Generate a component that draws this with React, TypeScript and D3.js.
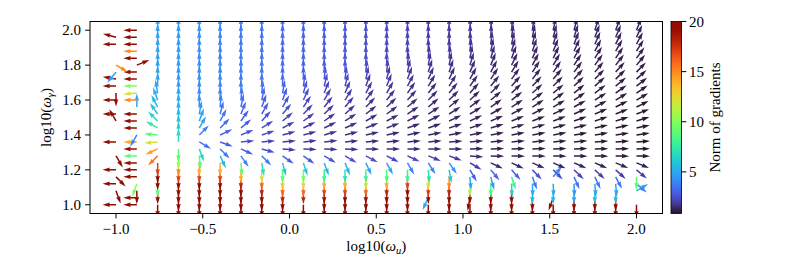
import React from 'react';
import * as d3 from 'd3';

// Grid (x = log10 omega_u columns, y = log10 omega_gamma rows from top to bottom)
const X_VALUES = [-1.0, -0.88, -0.76, -0.64, -0.52, -0.4, -0.28, -0.16, -0.04, 0.08, 0.2, 0.32, 0.44, 0.56, 0.68, 0.8, 0.92, 1.04, 1.16, 1.28, 1.4, 1.52, 1.64, 1.76, 1.88, 2.0];
const Y_VALUES = [2.0, 1.96, 1.92, 1.88, 1.84, 1.8, 1.76, 1.72, 1.68, 1.64, 1.6, 1.56, 1.52, 1.48, 1.44, 1.4, 1.36, 1.32, 1.28, 1.24, 1.2, 1.16, 1.12, 1.08, 1.04, 1.0];

// Arrow direction (degrees) per column, rows listed top (y=2.0) to bottom (y=1.0); x = missing
const ANGLE_COLUMNS = [
  'x 165 180 x x -30 -130 170 180 -90 180 x 180 120 x x 180 x -60 x 180 -45 180 -70 x 180',
  '180 180 180 180 180 22 180 180 180 185 180 90 180 180 180 -120 180 180 180 180 180 180 -110 -90 180 180',
  '90 90 90 90 90 90 90 90 90 100 110 118 125 135 150 175 185 205 225 -90 -90 -90 -90 -90 x -90',
  '90 90 90 90 90 90 90 90 90 90 90 90 90 90 90 90 90 -90 -90 -90 -90 -90 -90 -90 -90 -90',
  '90 90 90 90 90 90 90 90 90 90 90 90 80 70 60 45 -30 -70 -85 -90 -90 -90 -90 -90 -90 -90',
  '90 90 90 90 90 90 90 90 90 90 90 85 75 62 45 25 -20 -45 -65 -90 -90 -90 -90 -90 -90 -90',
  '90 90 90 90 90 90 90 90 90 90 85 78 68 55 40 22 5 -25 -55 -85 -90 -90 -90 -90 -90 -90',
  '90 90 90 90 90 90 90 90 90 85 78 70 60 48 32 18 5 -15 -45 -80 -90 -90 -90 -90 -90 -90',
  '90 90 90 90 90 90 90 90 90 80 70 60 50 40 28 15 5 -5 -35 -75 -90 -90 -90 -90 -90 -90',
  '90 90 90 90 90 90 90 90 82 74 65 56 46 36 26 15 6 -3 -35 -72 -90 -90 -90 -90 x -90',
  '90 90 90 90 90 90 90 84 76 68 60 52 44 35 26 16 6 -2 -30 -70 -90 -90 -90 -90 -90 -90',
  '90 90 90 90 90 90 90 83 75 67 58 50 42 33 24 14 5 -2 -30 -68 -90 -90 -90 -90 -90 -90',
  '90 90 90 90 90 90 85 78 70 62 54 46 38 30 22 13 5 -1 -28 -65 -90 -90 -90 -90 -90 -90',
  '90 90 90 90 90 90 84 76 68 60 52 44 36 28 20 12 5 0 -27 -62 -90 -90 -90 -90 -90 -90',
  '90 90 90 90 90 85 78 70 62 55 48 41 34 27 19 12 5 0 -25 -60 -90 -90 -90 -90 -90 -90',
  '90 90 90 90 86 80 73 66 59 52 46 40 33 26 19 11 5 0 -22 -58 -85 -90 -90 -90 -115 -90',
  '90 90 90 90 85 79 72 65 58 51 45 39 32 25 18 11 4 0 -20 -55 -80 -90 -90 -90 -90 -90',
  '88 88 88 84 79 73 67 61 55 49 43 37 31 25 18 11 5 1 -5 -30 -60 -85 -90 -90 -100 -90',
  '87 87 83 78 73 68 62 57 51 46 40 35 29 23 17 11 5 2 -2 -25 -50 -75 -90 -90 -90 -90',
  '85 82 78 74 69 64 59 54 49 44 38 33 28 22 16 11 5 2 -1 -25 -48 -72 -88 -90 -90 -90',
  '82 79 75 71 66 62 57 52 47 42 37 32 27 21 16 10 5 2 -1 -24 -46 -70 -88 -90 -90 -90',
  '78 75 72 68 64 60 55 50 45 40 35 30 25 20 15 10 5 2 -1 -24 -45 50 -88 -90 -110 -90',
  '75 72 69 65 61 57 53 48 44 39 34 29 24 19 14 9 5 2 -1 -23 -44 -66 -88 -90 -90 -90',
  '72 69 66 62 58 54 50 46 42 37 32 28 23 18 13 9 4 1 -1 -23 -43 -65 -85 -90 -90 -90',
  '70 67 64 60 56 52 48 44 40 36 31 27 22 17 13 8 4 1 -1 -22 -42 -62 -85 -90 -90 -90',
  '68 65 62 58 54 50 46 42 38 34 30 26 21 17 12 8 4 1 -1 -22 -40 -90 -40 30 x -90',
];

// Norm of gradients per column, same layout
const NORM_COLUMNS = [
  'x 20 20 x x 15 4.5 20 20 20 20 x 20 20 x x 20 x 20 x 20 20 20 20 x 20',
  '20 20 20 15 20 20 20 20 10 12 15 5 20 20 20 4 14 20 9 20 20 20 10 20 20 20',
  '4.8 4.8 4.8 4.8 4.8 4.8 4.8 4.8 4.8 5 5.3 5.6 6 6.5 7.5 9 12 14.5 15.5 17 20 20 9 20 x 20',
  '4.6 4.6 4.6 4.6 4.6 4.6 4.6 4.6 4.6 4.8 5 5.2 5.5 5.8 6.2 6.6 7 9 11 15 17 20 20 20 20 20',
  '4.3 4.3 4.3 4.3 4.3 4.3 4.3 4.3 4.3 4.3 4.3 4.3 4.5 4.8 4.8 4 3.5 6.5 9 14 17 20 20 20 20 20',
  '4 4 4 4 4 4 4 4 4 4 4 3.9 3.7 3.5 3.2 3 3 3.5 5.5 14 17 20 20 20 20 20',
  '3.7 3.7 3.7 3.7 3.7 3.7 3.7 3.7 3.7 3.7 3.6 3.4 3.2 3 2.8 2.6 2.5 3 4 9 14 18 20 20 20 20',
  '3.5 3.5 3.5 3.5 3.5 3.5 3.5 3.5 3.5 3.4 3.2 3 2.8 2.6 2.4 2.3 2.2 2.5 3.8 7 12 16 18 20 20 20',
  '3.3 3.3 3.3 3.3 3.3 3.3 3.3 3.3 3.3 3.1 2.9 2.7 2.5 2.3 2.1 2 1.9 2 3 6 9 13 16 18 20 20',
  '3.1 3.1 3.1 3.1 3.1 3.1 3.1 3.1 2.9 2.7 2.5 2.3 2.1 2 1.9 1.8 1.8 1.9 2.8 6 9.5 12 16 18 x 20',
  '2.9 2.9 2.9 2.9 2.9 2.9 2.9 2.7 2.5 2.3 2.2 2 1.9 1.8 1.75 1.7 1.7 1.8 2.6 5.5 8 14 17 19 20 20',
  '2.7 2.7 2.7 2.7 2.7 2.7 2.7 2.5 2.3 2.2 2 1.9 1.8 1.7 1.65 1.6 1.6 1.7 2.5 5.5 7 14 17 20 20 20',
  '2.5 2.5 2.5 2.5 2.5 2.5 2.4 2.2 2 1.9 1.8 1.7 1.65 1.6 1.55 1.5 1.5 1.6 2.4 5 8 12 16 19 20 20',
  '2.3 2.3 2.3 2.3 2.3 2.3 2.2 2 1.9 1.8 1.7 1.6 1.55 1.5 1.5 1.45 1.45 1.5 2.3 5 8.5 14 18 20 20 20',
  '2.15 2.15 2.15 2.15 2.15 2.05 1.95 1.85 1.75 1.65 1.6 1.5 1.45 1.4 1.4 1.4 1.4 1.45 2.2 4 8 17 20 20 20 20',
  '2 2 2 2 1.95 1.85 1.75 1.65 1.6 1.55 1.5 1.45 1.4 1.35 1.35 1.35 1.35 1.4 2 4 7 12 17 20 5 20',
  '1.9 1.9 1.9 1.9 1.85 1.75 1.65 1.55 1.5 1.45 1.4 1.35 1.35 1.3 1.3 1.3 1.3 1.35 1.9 4.5 6 15 18 20 20 20',
  '1.8 1.8 1.8 1.75 1.7 1.6 1.5 1.45 1.4 1.35 1.3 1.3 1.25 1.25 1.25 1.25 1.25 1.25 1.5 2 3 5 11 20 20 20',
  '1.7 1.7 1.65 1.6 1.55 1.5 1.45 1.4 1.35 1.3 1.25 1.25 1.2 1.2 1.2 1.2 1.2 1.2 1.3 1.5 3 4.5 8.5 20 20 20',
  '1.6 1.55 1.5 1.45 1.4 1.35 1.3 1.3 1.25 1.25 1.2 1.2 1.15 1.15 1.15 1.15 1.15 1.15 1.25 1.4 3 8 6.5 20 20 20',
  '1.5 1.45 1.4 1.4 1.35 1.3 1.3 1.25 1.2 1.2 1.15 1.15 1.1 1.1 1.1 1.1 1.1 1.1 1.2 1.35 2.5 3.5 5 5.5 20 20',
  '1.45 1.4 1.4 1.35 1.3 1.3 1.25 1.2 1.2 1.15 1.15 1.1 1.1 1.1 1.05 1.05 1.05 1.05 1.15 1.3 2.5 4 5 5.5 20 20',
  '1.4 1.4 1.35 1.3 1.3 1.25 1.2 1.2 1.15 1.15 1.1 1.1 1.05 1.05 1.05 1 1 1 1.1 1.3 2.2 3.5 4.5 5 20 20',
  '1.35 1.35 1.3 1.3 1.25 1.2 1.2 1.15 1.1 1.1 1.05 1.05 1 1 1 1 1 1 1.05 1.25 2 3.5 5 5.5 20 20',
  '1.3 1.3 1.25 1.25 1.2 1.2 1.15 1.1 1.1 1.05 1.05 1 1 1 0.95 0.95 0.95 0.95 1 1.2 2 3.5 5 5.5 20 20',
  '1.3 1.25 1.25 1.2 1.2 1.15 1.1 1.1 1.05 1.05 1 1 0.95 0.95 0.95 0.9 0.9 0.9 0.95 1.15 2 9 4 5 x 20',
];

const X_TICKS = [-1.0, -0.5, 0.0, 0.5, 1.0, 1.5, 2.0];
const Y_TICKS = [1.0, 1.2, 1.4, 1.6, 1.8, 2.0];
const CB_TICKS = [5, 10, 15, 20];
const NORM_RANGE = [0.85, 20];

const FONT = '"Liberation Serif", "DejaVu Serif", "Times New Roman", serif';

const parse = (s: string) => s.trim().split(/\s+/).map((t) => (t === 'x' ? NaN : +t));

export default function App() {
  const W = 793;
  const H = 262;
  const L = 90, R = 662.5, T = 21.5, B = 213.5;
  const x = d3.scaleLinear().domain([-1.15, 2.15]).range([L, R]);
  const y = d3.scaleLinear().domain([0.95, 2.05]).range([B, T]);
  const color = d3.scaleSequential(d3.interpolateTurbo).domain(NORM_RANGE).clamp(true);
  const cbL = 671, cbR = 681.5;
  const cbY = d3.scaleLinear().domain(NORM_RANGE).range([B, T]);

  // arrow polygon (matplotlib quiver style), pointing along +x
  const len = 13.5, w = 1.5;
  const hal = 4.5 * w, hl = 5 * w, hw = 3 * w;
  const arrowPts = [
    [0, -w / 2], [len - hal, -w / 2], [len - hl, -hw / 2], [len, 0],
    [len - hl, hw / 2], [len - hal, w / 2], [0, w / 2],
  ].map((p) => p.join(',')).join(' ');

  const angles = ANGLE_COLUMNS.map(parse);
  const norms = NORM_COLUMNS.map(parse);

  const arrows: { key: string; px: number; py: number; a: number; c: string }[] = [];
  // draw bottom rows first (matplotlib meshgrid order)
  for (let ri = Y_VALUES.length - 1; ri >= 0; ri--) {
    for (let ci = 0; ci < X_VALUES.length; ci++) {
      const a = angles[ci][ri];
      const n = norms[ci][ri];
      if (!isFinite(a) || !isFinite(n)) continue;
      arrows.push({ key: `${ci}-${ri}`, px: x(X_VALUES[ci]), py: y(Y_VALUES[ri]), a, c: color(n) as string });
    }
  }

  const stops = d3.range(0, 1.0001, 0.05);
  const txt = { fontFamily: FONT, fontSize: '15px' } as React.CSSProperties;

  return (
    <svg width={W} height={H} style={{ position: 'absolute', left: 0, top: 0, background: '#fff', fontFamily: FONT }}>
      <defs>
        <clipPath id="plotclip">
          <rect x={L} y={T} width={R - L} height={B - T} />
        </clipPath>
        <linearGradient id="cbgrad" x1="0" y1="1" x2="0" y2="0">
          {stops.map((t) => (
            <stop key={t} offset={t} stopColor={d3.interpolateTurbo(t)} />
          ))}
        </linearGradient>
      </defs>
      <rect x={0} y={0} width={W} height={H} fill="#fff" />
      <g clipPath="url(#plotclip)">
        {arrows.map((d) => (
          <polygon key={d.key} points={arrowPts} fill={d.c}
            transform={`translate(${d.px},${d.py}) rotate(${-d.a})`} />
        ))}
      </g>
      <rect x={L} y={T} width={R - L} height={B - T} fill="none" stroke="#000" strokeWidth={1} />
      {X_TICKS.map((t) => (
        <g key={t}>
          <line x1={x(t)} x2={x(t)} y1={B} y2={B + 4.9} stroke="#000" strokeWidth={1} />
          <text x={x(t)} y={234} textAnchor="middle" style={txt}>{(t < 0 ? '\u2212' : '') + Math.abs(t).toFixed(1)}</text>
        </g>
      ))}
      {Y_TICKS.map((t) => (
        <g key={t}>
          <line x1={L - 4.9} x2={L} y1={y(t)} y2={y(t)} stroke="#000" strokeWidth={1} />
          <text x={81} y={y(t)} dy="0.35em" textAnchor="end" style={txt}>{t.toFixed(1)}</text>
        </g>
      ))}
      <text x={(L + R) / 2} y={251} textAnchor="middle" style={txt}>
        log10(<tspan fontStyle="italic">ω</tspan><tspan fontStyle="italic" fontSize="10.5px" dy={3}>u</tspan><tspan dy={-3}>)</tspan>
      </text>
      <text transform={`translate(51,${(T + B) / 2}) rotate(-90)`} textAnchor="middle" style={txt}>
        log10(<tspan fontStyle="italic">ω</tspan><tspan fontStyle="italic" fontSize="10.5px" dy={3}>γ</tspan><tspan dy={-3}>)</tspan>
      </text>
      <rect x={cbL} y={T} width={cbR - cbL} height={B - T} fill="url(#cbgrad)" stroke="#000" strokeWidth={0.8} />
      {CB_TICKS.map((t) => (
        <g key={t}>
          <line x1={cbR} x2={cbR + 4.9} y1={cbY(t)} y2={cbY(t)} stroke="#000" strokeWidth={1} />
          <text x={cbR + 7.5} y={cbY(t)} dy="0.35em" style={txt}>{t}</text>
        </g>
      ))}
      <text transform={`translate(720,${(T + B) / 2}) rotate(-90)`} textAnchor="middle" style={txt}>Norm of gradients</text>
    </svg>
  );
}
